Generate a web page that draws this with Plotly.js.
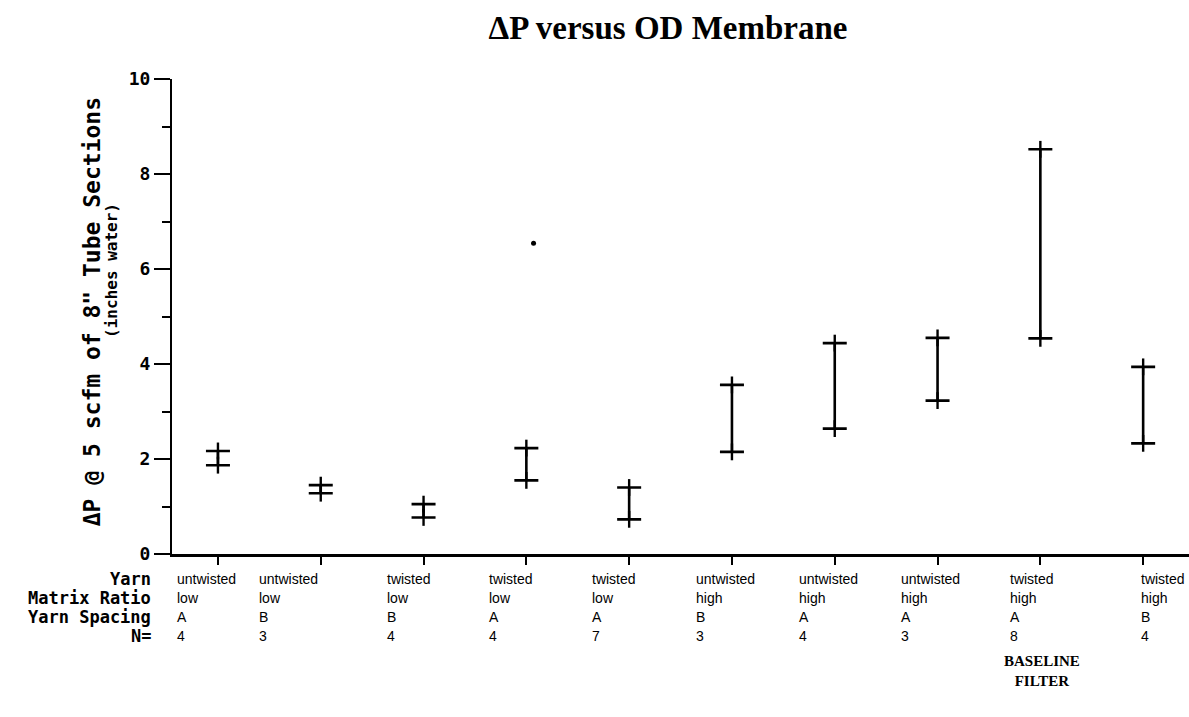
<!DOCTYPE html>
<html>
<head>
<meta charset="utf-8">
<script src="https://cdn.plot.ly/plotly-3.0.1.min.js"></script>
<style>html,body{margin:0;padding:0;background:#fff;}#chart{width:1189px;height:717px;}</style>
</head>
<body>
<div id="chart"></div>
<script>
// ---- data ----
var groupIndex   = [1, 2, 3, 4, 5, 6, 7, 8, 9, 10];
var yarn         = ["untwisted","untwisted","twisted","twisted","twisted","untwisted","untwisted","untwisted","twisted","twisted"];
var matrixRatio  = ["low","low","low","low","low","high","high","high","high","high"];
var yarnSpacing  = ["A","B","B","A","A","B","A","A","A","B"];
var nCount       = ["4","3","4","4","7","3","4","3","8","4"];
var minVals      = [1.87, 1.28, 0.77, 1.55, 0.73, 2.15, 2.64, 3.23, 4.54, 2.33];
var maxVals      = [2.17, 1.45, 1.05, 2.23, 1.40, 3.56, 4.44, 4.55, 8.52, 3.94];
var outlierX     = [4.07];
var outlierY     = [6.54];
var rowHeaders   = ["Yarn", "Matrix Ratio", "Yarn Spacing", "N="];
var baselineNote = "BASELINE<br>FILTER";
var baselineGroup = 9;
var yTickVals    = [0, 2, 4, 6, 8, 10];

// ---- layout helpers (positions / styles) ----
var rowShift = [-25, -44, -63, -82];
var colShift = [-43, -64, -39, -39, -39, -38, -38, -39, -32, -4];
var monoBold = "DejaVu Sans Mono";
var colFont = {family: "Liberation Sans, Arial, sans-serif", size: 14, color: "#000"};

var traces = [];
// range bars (hat at max, shoe at min)
traces.push({
  type: "scatter", mode: "markers",
  x: groupIndex, y: maxVals,
  marker: {size: 1, color: "rgba(0,0,0,0)"},
  error_y: {type: "data", symmetric: false,
    array: maxVals.map(function(){return 0;}),
    arrayminus: maxVals.map(function(v, i){return v - minVals[i];}),
    color: "#000", thickness: 2.6, width: 12},
  hoverinfo: "skip", showlegend: false
});
// small vertical overshoot at each end ("+" look)
traces.push({
  type: "scatter", mode: "markers",
  x: groupIndex.concat(groupIndex), y: maxVals.concat(minVals),
  marker: {symbol: "line-ns", size: 12, line: {color: "#000", width: 2.4}},
  hoverinfo: "skip", showlegend: false
});
// outlier
traces.push({
  type: "scatter", mode: "markers",
  x: outlierX, y: outlierY,
  marker: {symbol: "circle", size: 5, color: "#000"},
  hoverinfo: "skip", showlegend: false
});

var annotations = [];
var rows = [yarn, matrixRatio, yarnSpacing, nCount];
rowHeaders.forEach(function(h, r){
  annotations.push({xref: "paper", yref: "paper", x: 0, y: 0, xshift: -19, yshift: rowShift[r],
    xanchor: "right", yanchor: "middle", showarrow: false, text: "<b>" + h + "</b>",
    font: {family: monoBold, size: 17, color: "#000"}});
  rows[r].forEach(function(t, i){
    annotations.push({xref: "x", yref: "paper", x: groupIndex[i], y: 0, xshift: colShift[i], yshift: rowShift[r],
      xanchor: "left", yanchor: "middle", showarrow: false, text: t, font: colFont});
  });
});
annotations.push({xref: "x", yref: "paper", x: baselineGroup, y: 0, xshift: 2, yshift: -117,
  xanchor: "center", yanchor: "middle", showarrow: false, text: "<b>" + baselineNote + "</b>",
  font: {family: "Liberation Serif, Times New Roman, serif", size: 15, color: "#000"}});
// y-axis titles
annotations.push({xref: "paper", yref: "paper", x: 0, y: 0.509, xshift: -80, xanchor: "center", yanchor: "middle",
  textangle: -90, showarrow: false, text: "<b>\u0394P @ 5 scfm of 8\" Tube Sections</b>",
  font: {family: monoBold, size: 23, color: "#000"}});
annotations.push({xref: "paper", yref: "paper", x: 0, y: 0.596, xshift: -60, xanchor: "center", yanchor: "middle",
  textangle: -90, showarrow: false, text: "<b>(inches water)</b>",
  font: {family: monoBold, size: 16, color: "#000"}});

var layout = {
  width: 1189, height: 717,
  paper_bgcolor: "#fff", plot_bgcolor: "#fff",
  margin: {l: 172, r: 0, t: 79, b: 163, pad: 0},
  title: {text: "<b>\u0394P versus OD Membrane</b>", xref: "container", yref: "container",
    x: 668/1189, xanchor: "center", y: 1 - 27/717, yanchor: "middle",
    font: {family: "Liberation Serif, Times New Roman, serif", size: 33, color: "#000"}},
  xaxis: {range: [0.553, 10.446], showgrid: false, zeroline: false,
    showline: true, linecolor: "#000", linewidth: 2.5,
    tickmode: "array", tickvals: groupIndex, ticks: "outside", ticklen: 8, tickwidth: 2, tickcolor: "#000",
    showticklabels: false, fixedrange: true},
  yaxis: {range: [0, 10], showgrid: false, zeroline: false,
    showline: true, linecolor: "#000", linewidth: 2,
    tickmode: "array", tickvals: yTickVals, ticktext: yTickVals.map(String),
    ticks: "outside", ticklen: 16, tickwidth: 2, tickcolor: "#000",
    tickfont: {family: monoBold, size: 18, color: "#000", weight: "bold"},
    minor: {dtick: 1, ticks: "outside", ticklen: 8, tickwidth: 2, tickcolor: "#000", showgrid: false},
    fixedrange: true},
  annotations: annotations,
  showlegend: false
};

Plotly.newPlot("chart", traces, layout, {displayModeBar: false, staticPlot: true});
</script>
</body>
</html>
